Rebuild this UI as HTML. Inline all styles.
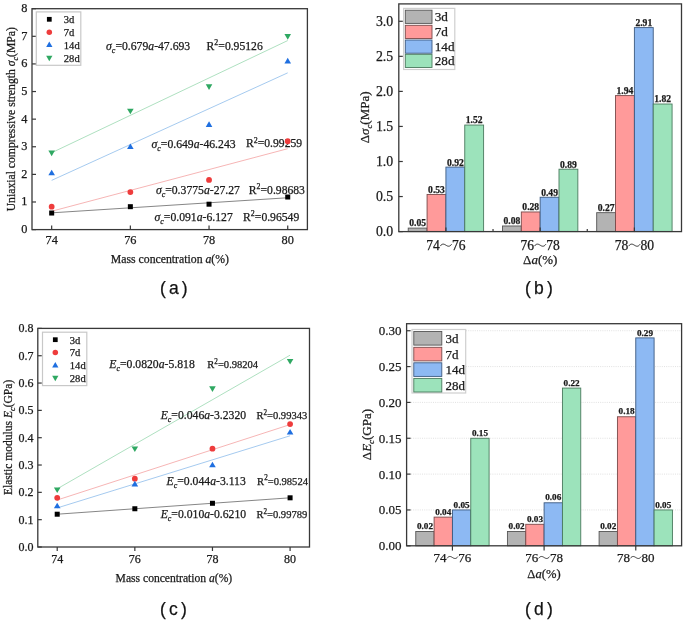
<!DOCTYPE html>
<html><head><meta charset="utf-8"><style>
html,body{margin:0;padding:0;background:#fff;}
svg{display:block;will-change:transform;filter:blur(0.35px);}
text{stroke:#1a1a1a;stroke-width:0.25px;}
</style></head><body>
<svg width="685" height="622" viewBox="0 0 685 622">
<rect width="685" height="622" fill="#fff"/>
<rect x="32.00" y="8.70" width="275.40" height="220.90" fill="none" stroke="#383838" stroke-width="1.3"/>
<line x1="32.00" y1="229.60" x2="36.00" y2="229.60" stroke="#383838" stroke-width="1.2"/>
<text x="27.40" y="233.00" font-size="12.3" text-anchor="end" font-weight="normal" font-style="normal" fill="#1a1a1a" font-family="'Liberation Serif', serif" >0</text>
<line x1="32.00" y1="201.99" x2="36.00" y2="201.99" stroke="#383838" stroke-width="1.2"/>
<text x="27.40" y="205.39" font-size="12.3" text-anchor="end" font-weight="normal" font-style="normal" fill="#1a1a1a" font-family="'Liberation Serif', serif" >1</text>
<line x1="32.00" y1="174.38" x2="36.00" y2="174.38" stroke="#383838" stroke-width="1.2"/>
<text x="27.40" y="177.78" font-size="12.3" text-anchor="end" font-weight="normal" font-style="normal" fill="#1a1a1a" font-family="'Liberation Serif', serif" >2</text>
<line x1="32.00" y1="146.76" x2="36.00" y2="146.76" stroke="#383838" stroke-width="1.2"/>
<text x="27.40" y="150.16" font-size="12.3" text-anchor="end" font-weight="normal" font-style="normal" fill="#1a1a1a" font-family="'Liberation Serif', serif" >3</text>
<line x1="32.00" y1="119.15" x2="36.00" y2="119.15" stroke="#383838" stroke-width="1.2"/>
<text x="27.40" y="122.55" font-size="12.3" text-anchor="end" font-weight="normal" font-style="normal" fill="#1a1a1a" font-family="'Liberation Serif', serif" >4</text>
<line x1="32.00" y1="91.54" x2="36.00" y2="91.54" stroke="#383838" stroke-width="1.2"/>
<text x="27.40" y="94.94" font-size="12.3" text-anchor="end" font-weight="normal" font-style="normal" fill="#1a1a1a" font-family="'Liberation Serif', serif" >5</text>
<line x1="32.00" y1="63.92" x2="36.00" y2="63.92" stroke="#383838" stroke-width="1.2"/>
<text x="27.40" y="67.32" font-size="12.3" text-anchor="end" font-weight="normal" font-style="normal" fill="#1a1a1a" font-family="'Liberation Serif', serif" >6</text>
<line x1="32.00" y1="36.31" x2="36.00" y2="36.31" stroke="#383838" stroke-width="1.2"/>
<text x="27.40" y="39.71" font-size="12.3" text-anchor="end" font-weight="normal" font-style="normal" fill="#1a1a1a" font-family="'Liberation Serif', serif" >7</text>
<line x1="32.00" y1="8.70" x2="36.00" y2="8.70" stroke="#383838" stroke-width="1.2"/>
<text x="27.40" y="12.10" font-size="12.3" text-anchor="end" font-weight="normal" font-style="normal" fill="#1a1a1a" font-family="'Liberation Serif', serif" >8</text>
<line x1="51.67" y1="229.60" x2="51.67" y2="225.60" stroke="#383838" stroke-width="1.2"/>
<text x="51.67" y="244.20" font-size="12.3" text-anchor="middle" font-weight="normal" font-style="normal" fill="#1a1a1a" font-family="'Liberation Serif', serif" >74</text>
<line x1="130.36" y1="229.60" x2="130.36" y2="225.60" stroke="#383838" stroke-width="1.2"/>
<text x="130.36" y="244.20" font-size="12.3" text-anchor="middle" font-weight="normal" font-style="normal" fill="#1a1a1a" font-family="'Liberation Serif', serif" >76</text>
<line x1="209.04" y1="229.60" x2="209.04" y2="225.60" stroke="#383838" stroke-width="1.2"/>
<text x="209.04" y="244.20" font-size="12.3" text-anchor="middle" font-weight="normal" font-style="normal" fill="#1a1a1a" font-family="'Liberation Serif', serif" >78</text>
<line x1="287.73" y1="229.60" x2="287.73" y2="225.60" stroke="#383838" stroke-width="1.2"/>
<text x="287.73" y="244.20" font-size="12.3" text-anchor="middle" font-weight="normal" font-style="normal" fill="#1a1a1a" font-family="'Liberation Serif', serif" >80</text>
<line x1="51.67" y1="212.84" x2="287.73" y2="197.76" stroke="#707070" stroke-width="0.85"/>
<line x1="51.67" y1="211.24" x2="287.73" y2="148.70" stroke="#f4a8a8" stroke-width="0.85"/>
<line x1="51.67" y1="180.37" x2="287.73" y2="72.84" stroke="#95c0ec" stroke-width="0.85"/>
<line x1="51.67" y1="152.73" x2="287.73" y2="40.56" stroke="#9fdab5" stroke-width="0.85"/>
<text x="106.10" y="49.60" font-size="11.7" fill="#1a1a1a" font-family="'Liberation Serif', serif"><tspan font-style="italic">σ</tspan><tspan font-style="italic" font-size="7.96" dy="3">c</tspan><tspan dy="-3">=0.679<tspan font-style="italic">a</tspan>-47.693</tspan></text>
<text x="206.60" y="49.80" font-size="11.65" fill="#1a1a1a" font-family="'Liberation Serif', serif">R<tspan font-size="7.92" dy="-4.43">2</tspan><tspan dy="4.43">=0.95126</tspan></text>
<text x="151.50" y="148.00" font-size="11.7" fill="#1a1a1a" font-family="'Liberation Serif', serif"><tspan font-style="italic">σ</tspan><tspan font-style="italic" font-size="7.96" dy="3">c</tspan><tspan dy="-3">=0.649<tspan font-style="italic">a</tspan>-46.243</tspan></text>
<text x="246.00" y="147.20" font-size="11.65" fill="#1a1a1a" font-family="'Liberation Serif', serif">R<tspan font-size="7.92" dy="-4.43">2</tspan><tspan dy="4.43">=0.99259</tspan></text>
<text x="155.90" y="194.00" font-size="11.7" fill="#1a1a1a" font-family="'Liberation Serif', serif"><tspan font-style="italic">σ</tspan><tspan font-style="italic" font-size="7.96" dy="3">c</tspan><tspan dy="-3">=0.3775<tspan font-style="italic">a</tspan>-27.27</tspan></text>
<text x="248.80" y="193.60" font-size="11.65" fill="#1a1a1a" font-family="'Liberation Serif', serif">R<tspan font-size="7.92" dy="-4.43">2</tspan><tspan dy="4.43">=0.98683</tspan></text>
<text x="154.50" y="220.90" font-size="11.7" fill="#1a1a1a" font-family="'Liberation Serif', serif"><tspan font-style="italic">σ</tspan><tspan font-style="italic" font-size="7.96" dy="3">c</tspan><tspan dy="-3">=0.091<tspan font-style="italic">a</tspan>-6.127</tspan></text>
<text x="243.10" y="220.90" font-size="11.65" fill="#1a1a1a" font-family="'Liberation Serif', serif">R<tspan font-size="7.92" dy="-4.43">2</tspan><tspan dy="4.43">=0.96549</tspan></text>
<rect x="49.17" y="210.53" width="5.00" height="5.00" fill="#000"/>
<rect x="127.86" y="204.18" width="5.00" height="5.00" fill="#000"/>
<rect x="206.54" y="201.70" width="5.00" height="5.00" fill="#000"/>
<rect x="285.23" y="194.52" width="5.00" height="5.00" fill="#000"/>
<circle cx="51.67" cy="206.68" r="2.90" fill="#ee3c3c"/>
<circle cx="130.36" cy="192.05" r="2.90" fill="#ee3c3c"/>
<circle cx="209.04" cy="179.90" r="2.90" fill="#ee3c3c"/>
<circle cx="287.73" cy="141.24" r="2.90" fill="#ee3c3c"/>
<path d="M51.67 169.63 L54.97 175.23 L48.37 175.23 Z" fill="#1f6fe0"/>
<path d="M130.36 143.40 L133.66 149.00 L127.06 149.00 Z" fill="#1f6fe0"/>
<path d="M209.04 121.31 L212.34 126.91 L205.74 126.91 Z" fill="#1f6fe0"/>
<path d="M287.73 57.80 L291.03 63.40 L284.43 63.40 Z" fill="#1f6fe0"/>
<path d="M51.67 156.20 L54.97 150.60 L48.37 150.60 Z" fill="#2fa862"/>
<path d="M130.36 114.23 L133.66 108.63 L127.06 108.63 Z" fill="#2fa862"/>
<path d="M209.04 89.93 L212.34 84.33 L205.74 84.33 Z" fill="#2fa862"/>
<path d="M287.73 39.67 L291.03 34.07 L284.43 34.07 Z" fill="#2fa862"/>
<rect x="36.30" y="11.90" width="44.50" height="53.40" fill="#fff" stroke="#c8c8c8" stroke-width="1.2"/>
<rect x="46.92" y="16.93" width="4.75" height="4.75" fill="#000"/>
<text x="63.80" y="23.10" font-size="10.6" text-anchor="start" font-weight="normal" font-style="normal" fill="#1a1a1a" font-family="'Liberation Serif', serif" >3d</text>
<circle cx="49.30" cy="32.20" r="2.75" fill="#ee3c3c"/>
<text x="63.80" y="36.00" font-size="10.6" text-anchor="start" font-weight="normal" font-style="normal" fill="#1a1a1a" font-family="'Liberation Serif', serif" >7d</text>
<path d="M49.30 41.61 L52.43 46.93 L46.16 46.93 Z" fill="#1f6fe0"/>
<text x="63.80" y="48.60" font-size="10.6" text-anchor="start" font-weight="normal" font-style="normal" fill="#1a1a1a" font-family="'Liberation Serif', serif" >14d</text>
<path d="M49.30 61.19 L52.43 55.87 L46.16 55.87 Z" fill="#2fa862"/>
<text x="63.80" y="61.80" font-size="10.6" text-anchor="start" font-weight="normal" font-style="normal" fill="#1a1a1a" font-family="'Liberation Serif', serif" >28d</text>
<text x="169.90" y="262.60" font-size="11.75" text-anchor="middle" font-weight="normal" font-style="normal" fill="#1a1a1a" font-family="'Liberation Serif', serif" >Mass concentration <tspan font-style="italic">a</tspan>(%)</text>
<text transform="translate(15.3,119.2) rotate(-90)" text-anchor="middle" font-size="11.7" fill="#1a1a1a" font-family="'Liberation Serif', serif">Uniaxial compressive strength <tspan font-style="italic">σ</tspan><tspan font-style="italic" font-size="8.0" dy="3">c</tspan><tspan dy="-3">(MPa)</tspan></text>
<rect x="37.80" y="328.40" width="271.70" height="218.60" fill="none" stroke="#383838" stroke-width="1.3"/>
<line x1="37.80" y1="547.00" x2="41.80" y2="547.00" stroke="#383838" stroke-width="1.2"/>
<text x="33.40" y="550.90" font-size="12" text-anchor="end" font-weight="normal" font-style="normal" fill="#1a1a1a" font-family="'Liberation Serif', serif" >0.0</text>
<line x1="37.80" y1="519.67" x2="41.80" y2="519.67" stroke="#383838" stroke-width="1.2"/>
<text x="33.40" y="523.57" font-size="12" text-anchor="end" font-weight="normal" font-style="normal" fill="#1a1a1a" font-family="'Liberation Serif', serif" >0.1</text>
<line x1="37.80" y1="492.35" x2="41.80" y2="492.35" stroke="#383838" stroke-width="1.2"/>
<text x="33.40" y="496.25" font-size="12" text-anchor="end" font-weight="normal" font-style="normal" fill="#1a1a1a" font-family="'Liberation Serif', serif" >0.2</text>
<line x1="37.80" y1="465.02" x2="41.80" y2="465.02" stroke="#383838" stroke-width="1.2"/>
<text x="33.40" y="468.92" font-size="12" text-anchor="end" font-weight="normal" font-style="normal" fill="#1a1a1a" font-family="'Liberation Serif', serif" >0.3</text>
<line x1="37.80" y1="437.70" x2="41.80" y2="437.70" stroke="#383838" stroke-width="1.2"/>
<text x="33.40" y="441.60" font-size="12" text-anchor="end" font-weight="normal" font-style="normal" fill="#1a1a1a" font-family="'Liberation Serif', serif" >0.4</text>
<line x1="37.80" y1="410.38" x2="41.80" y2="410.38" stroke="#383838" stroke-width="1.2"/>
<text x="33.40" y="414.27" font-size="12" text-anchor="end" font-weight="normal" font-style="normal" fill="#1a1a1a" font-family="'Liberation Serif', serif" >0.5</text>
<line x1="37.80" y1="383.05" x2="41.80" y2="383.05" stroke="#383838" stroke-width="1.2"/>
<text x="33.40" y="386.95" font-size="12" text-anchor="end" font-weight="normal" font-style="normal" fill="#1a1a1a" font-family="'Liberation Serif', serif" >0.6</text>
<line x1="37.80" y1="355.73" x2="41.80" y2="355.73" stroke="#383838" stroke-width="1.2"/>
<text x="33.40" y="359.62" font-size="12" text-anchor="end" font-weight="normal" font-style="normal" fill="#1a1a1a" font-family="'Liberation Serif', serif" >0.7</text>
<line x1="37.80" y1="328.40" x2="41.80" y2="328.40" stroke="#383838" stroke-width="1.2"/>
<text x="33.40" y="332.30" font-size="12" text-anchor="end" font-weight="normal" font-style="normal" fill="#1a1a1a" font-family="'Liberation Serif', serif" >0.8</text>
<line x1="57.21" y1="547.00" x2="57.21" y2="551.00" stroke="#383838" stroke-width="1.2"/>
<text x="57.21" y="563.30" font-size="12" text-anchor="middle" font-weight="normal" font-style="normal" fill="#1a1a1a" font-family="'Liberation Serif', serif" >74</text>
<line x1="134.84" y1="547.00" x2="134.84" y2="551.00" stroke="#383838" stroke-width="1.2"/>
<text x="134.84" y="563.30" font-size="12" text-anchor="middle" font-weight="normal" font-style="normal" fill="#1a1a1a" font-family="'Liberation Serif', serif" >76</text>
<line x1="212.46" y1="547.00" x2="212.46" y2="551.00" stroke="#383838" stroke-width="1.2"/>
<text x="212.46" y="563.30" font-size="12" text-anchor="middle" font-weight="normal" font-style="normal" fill="#1a1a1a" font-family="'Liberation Serif', serif" >78</text>
<line x1="290.09" y1="547.00" x2="290.09" y2="551.00" stroke="#383838" stroke-width="1.2"/>
<text x="290.09" y="563.30" font-size="12" text-anchor="middle" font-weight="normal" font-style="normal" fill="#1a1a1a" font-family="'Liberation Serif', serif" >80</text>
<line x1="57.21" y1="514.21" x2="290.09" y2="497.81" stroke="#707070" stroke-width="0.85"/>
<line x1="57.21" y1="500.00" x2="290.09" y2="424.58" stroke="#f4a8a8" stroke-width="0.85"/>
<line x1="57.21" y1="507.93" x2="290.09" y2="435.79" stroke="#95c0ec" stroke-width="0.85"/>
<line x1="57.21" y1="488.80" x2="290.09" y2="355.18" stroke="#9fdab5" stroke-width="0.85"/>
<text x="109.30" y="368.40" font-size="11.7" fill="#1a1a1a" font-family="'Liberation Serif', serif"><tspan font-style="italic">E</tspan><tspan font-style="italic" font-size="7.96" dy="3">c</tspan><tspan dy="-3">=0.0820<tspan font-style="italic">a</tspan>-5.818</tspan></text>
<text x="207.30" y="368.40" font-size="10.55" fill="#1a1a1a" font-family="'Liberation Serif', serif">R<tspan font-size="7.17" dy="-4.01">2</tspan><tspan dy="4.01">=0.98204</tspan></text>
<text x="160.70" y="418.70" font-size="11.7" fill="#1a1a1a" font-family="'Liberation Serif', serif"><tspan font-style="italic">E</tspan><tspan font-style="italic" font-size="7.96" dy="3">c</tspan><tspan dy="-3">=0.046<tspan font-style="italic">a</tspan>-3.2320</tspan></text>
<text x="256.40" y="418.70" font-size="10.55" fill="#1a1a1a" font-family="'Liberation Serif', serif">R<tspan font-size="7.17" dy="-4.01">2</tspan><tspan dy="4.01">=0.99343</tspan></text>
<text x="166.60" y="484.50" font-size="11.7" fill="#1a1a1a" font-family="'Liberation Serif', serif"><tspan font-style="italic">E</tspan><tspan font-style="italic" font-size="7.96" dy="3">c</tspan><tspan dy="-3">=0.044<tspan font-style="italic">a</tspan>-3.113</tspan></text>
<text x="257.10" y="484.50" font-size="10.55" fill="#1a1a1a" font-family="'Liberation Serif', serif">R<tspan font-size="7.17" dy="-4.01">2</tspan><tspan dy="4.01">=0.98524</tspan></text>
<text x="160.70" y="517.90" font-size="11.7" fill="#1a1a1a" font-family="'Liberation Serif', serif"><tspan font-style="italic">E</tspan><tspan font-style="italic" font-size="7.96" dy="3">c</tspan><tspan dy="-3">=0.010<tspan font-style="italic">a</tspan>-0.6210</tspan></text>
<text x="256.40" y="517.90" font-size="10.55" fill="#1a1a1a" font-family="'Liberation Serif', serif">R<tspan font-size="7.17" dy="-4.01">2</tspan><tspan dy="4.01">=0.99789</tspan></text>
<rect x="54.71" y="511.71" width="5.00" height="5.00" fill="#000"/>
<rect x="132.34" y="506.25" width="5.00" height="5.00" fill="#000"/>
<rect x="209.96" y="500.78" width="5.00" height="5.00" fill="#000"/>
<rect x="287.59" y="495.31" width="5.00" height="5.00" fill="#000"/>
<circle cx="57.21" cy="497.81" r="2.90" fill="#ee3c3c"/>
<circle cx="134.84" cy="478.69" r="2.90" fill="#ee3c3c"/>
<circle cx="212.46" cy="448.63" r="2.90" fill="#ee3c3c"/>
<circle cx="290.09" cy="424.04" r="2.90" fill="#ee3c3c"/>
<path d="M57.21 502.65 L60.51 508.25 L53.91 508.25 Z" fill="#1f6fe0"/>
<path d="M134.84 480.79 L138.14 486.39 L131.54 486.39 Z" fill="#1f6fe0"/>
<path d="M212.46 461.66 L215.76 467.26 L209.16 467.26 Z" fill="#1f6fe0"/>
<path d="M290.09 428.88 L293.39 434.48 L286.79 434.48 Z" fill="#1f6fe0"/>
<path d="M57.21 492.98 L60.51 487.38 L53.91 487.38 Z" fill="#2fa862"/>
<path d="M134.84 451.99 L138.14 446.39 L131.54 446.39 Z" fill="#2fa862"/>
<path d="M212.46 391.88 L215.76 386.27 L209.16 386.27 Z" fill="#2fa862"/>
<path d="M290.09 364.55 L293.39 358.95 L286.79 358.95 Z" fill="#2fa862"/>
<rect x="42.50" y="332.20" width="44.30" height="53.40" fill="#fff" stroke="#c8c8c8" stroke-width="1.2"/>
<rect x="52.92" y="337.32" width="4.75" height="4.75" fill="#000"/>
<text x="69.80" y="343.50" font-size="10.6" text-anchor="start" font-weight="normal" font-style="normal" fill="#1a1a1a" font-family="'Liberation Serif', serif" >3d</text>
<circle cx="55.30" cy="352.50" r="2.75" fill="#ee3c3c"/>
<text x="69.80" y="356.30" font-size="10.6" text-anchor="start" font-weight="normal" font-style="normal" fill="#1a1a1a" font-family="'Liberation Serif', serif" >7d</text>
<path d="M55.30 362.11 L58.43 367.43 L52.16 367.43 Z" fill="#1f6fe0"/>
<text x="69.80" y="369.10" font-size="10.6" text-anchor="start" font-weight="normal" font-style="normal" fill="#1a1a1a" font-family="'Liberation Serif', serif" >14d</text>
<path d="M55.30 381.19 L58.43 375.87 L52.16 375.87 Z" fill="#2fa862"/>
<text x="69.80" y="381.80" font-size="10.6" text-anchor="start" font-weight="normal" font-style="normal" fill="#1a1a1a" font-family="'Liberation Serif', serif" >28d</text>
<text x="173.90" y="582.40" font-size="11.6" text-anchor="middle" font-weight="normal" font-style="normal" fill="#1a1a1a" font-family="'Liberation Serif', serif" >Mass concentration <tspan font-style="italic">a</tspan>(%)</text>
<text transform="translate(11.8,437.4) rotate(-90)" text-anchor="middle" font-size="11.55" fill="#1a1a1a" font-family="'Liberation Serif', serif">Elastic modulus <tspan font-style="italic">E</tspan><tspan font-style="italic" font-size="8.3" dy="3">c</tspan><tspan dy="-3">(GPa)</tspan></text>
<rect x="408.22" y="228.09" width="18.85" height="3.51" fill="#b3b3b3" stroke="#555" stroke-width="0.9"/>
<text x="417.65" y="226.49" font-size="9.6" text-anchor="middle" font-weight="bold" font-style="normal" fill="#1a1a1a" font-family="'Liberation Serif', serif" >0.05</text>
<rect x="427.07" y="194.44" width="18.85" height="37.16" fill="#ff9a9a" stroke="#7a4a4a" stroke-width="0.9"/>
<text x="436.49" y="192.84" font-size="9.6" text-anchor="middle" font-weight="bold" font-style="normal" fill="#1a1a1a" font-family="'Liberation Serif', serif" >0.53</text>
<rect x="445.92" y="167.10" width="18.85" height="64.50" fill="#8db9f3" stroke="#3c5a80" stroke-width="0.9"/>
<text x="455.34" y="165.50" font-size="9.6" text-anchor="middle" font-weight="bold" font-style="normal" fill="#1a1a1a" font-family="'Liberation Serif', serif" >0.92</text>
<rect x="464.76" y="125.04" width="18.85" height="106.56" fill="#9ce3bb" stroke="#4a7a5e" stroke-width="0.9"/>
<text x="474.19" y="123.44" font-size="9.6" text-anchor="middle" font-weight="bold" font-style="normal" fill="#1a1a1a" font-family="'Liberation Serif', serif" >1.52</text>
<rect x="502.46" y="225.99" width="18.85" height="5.61" fill="#b3b3b3" stroke="#555" stroke-width="0.9"/>
<text x="511.88" y="224.39" font-size="9.6" text-anchor="middle" font-weight="bold" font-style="normal" fill="#1a1a1a" font-family="'Liberation Serif', serif" >0.08</text>
<rect x="521.30" y="211.97" width="18.85" height="19.63" fill="#ff9a9a" stroke="#7a4a4a" stroke-width="0.9"/>
<text x="530.73" y="210.37" font-size="9.6" text-anchor="middle" font-weight="bold" font-style="normal" fill="#1a1a1a" font-family="'Liberation Serif', serif" >0.28</text>
<rect x="540.15" y="197.25" width="18.85" height="34.35" fill="#8db9f3" stroke="#3c5a80" stroke-width="0.9"/>
<text x="549.57" y="195.65" font-size="9.6" text-anchor="middle" font-weight="bold" font-style="normal" fill="#1a1a1a" font-family="'Liberation Serif', serif" >0.49</text>
<rect x="559.00" y="169.21" width="18.85" height="62.39" fill="#9ce3bb" stroke="#4a7a5e" stroke-width="0.9"/>
<text x="568.42" y="167.61" font-size="9.6" text-anchor="middle" font-weight="bold" font-style="normal" fill="#1a1a1a" font-family="'Liberation Serif', serif" >0.89</text>
<rect x="596.69" y="212.67" width="18.85" height="18.93" fill="#b3b3b3" stroke="#555" stroke-width="0.9"/>
<text x="606.11" y="211.07" font-size="9.6" text-anchor="middle" font-weight="bold" font-style="normal" fill="#1a1a1a" font-family="'Liberation Serif', serif" >0.27</text>
<rect x="615.54" y="95.60" width="18.85" height="136.00" fill="#ff9a9a" stroke="#7a4a4a" stroke-width="0.9"/>
<text x="624.96" y="94.00" font-size="9.6" text-anchor="middle" font-weight="bold" font-style="normal" fill="#1a1a1a" font-family="'Liberation Serif', serif" >1.94</text>
<rect x="634.38" y="27.60" width="18.85" height="204.00" fill="#8db9f3" stroke="#3c5a80" stroke-width="0.9"/>
<text x="643.81" y="26.00" font-size="9.6" text-anchor="middle" font-weight="bold" font-style="normal" fill="#1a1a1a" font-family="'Liberation Serif', serif" >2.91</text>
<rect x="653.23" y="104.01" width="18.85" height="127.59" fill="#9ce3bb" stroke="#4a7a5e" stroke-width="0.9"/>
<text x="662.65" y="102.41" font-size="9.6" text-anchor="middle" font-weight="bold" font-style="normal" fill="#1a1a1a" font-family="'Liberation Serif', serif" >1.82</text>
<rect x="398.80" y="3.90" width="282.70" height="227.70" fill="none" stroke="#383838" stroke-width="1.3"/>
<line x1="398.80" y1="231.60" x2="402.80" y2="231.60" stroke="#383838" stroke-width="1.2"/>
<text x="393.20" y="236.29" font-size="13.8" text-anchor="end" font-weight="normal" font-style="normal" fill="#1a1a1a" font-family="'Liberation Serif', serif" >0.0</text>
<line x1="398.80" y1="196.55" x2="402.80" y2="196.55" stroke="#383838" stroke-width="1.2"/>
<text x="393.20" y="201.24" font-size="13.8" text-anchor="end" font-weight="normal" font-style="normal" fill="#1a1a1a" font-family="'Liberation Serif', serif" >0.5</text>
<line x1="398.80" y1="161.50" x2="402.80" y2="161.50" stroke="#383838" stroke-width="1.2"/>
<text x="393.20" y="166.19" font-size="13.8" text-anchor="end" font-weight="normal" font-style="normal" fill="#1a1a1a" font-family="'Liberation Serif', serif" >1.0</text>
<line x1="398.80" y1="126.44" x2="402.80" y2="126.44" stroke="#383838" stroke-width="1.2"/>
<text x="393.20" y="131.13" font-size="13.8" text-anchor="end" font-weight="normal" font-style="normal" fill="#1a1a1a" font-family="'Liberation Serif', serif" >1.5</text>
<line x1="398.80" y1="91.39" x2="402.80" y2="91.39" stroke="#383838" stroke-width="1.2"/>
<text x="393.20" y="96.08" font-size="13.8" text-anchor="end" font-weight="normal" font-style="normal" fill="#1a1a1a" font-family="'Liberation Serif', serif" >2.0</text>
<line x1="398.80" y1="56.34" x2="402.80" y2="56.34" stroke="#383838" stroke-width="1.2"/>
<text x="393.20" y="61.03" font-size="13.8" text-anchor="end" font-weight="normal" font-style="normal" fill="#1a1a1a" font-family="'Liberation Serif', serif" >2.5</text>
<line x1="398.80" y1="21.29" x2="402.80" y2="21.29" stroke="#383838" stroke-width="1.2"/>
<text x="393.20" y="25.98" font-size="13.8" text-anchor="end" font-weight="normal" font-style="normal" fill="#1a1a1a" font-family="'Liberation Serif', serif" >3.0</text>
<line x1="493.03" y1="231.60" x2="493.03" y2="229.10" stroke="#383838" stroke-width="1.2"/>
<line x1="587.27" y1="231.60" x2="587.27" y2="229.10" stroke="#383838" stroke-width="1.2"/>
<line x1="445.92" y1="231.60" x2="445.92" y2="227.60" stroke="#383838" stroke-width="1.2"/>
<line x1="540.15" y1="231.60" x2="540.15" y2="227.60" stroke="#383838" stroke-width="1.2"/>
<line x1="634.38" y1="231.60" x2="634.38" y2="227.60" stroke="#383838" stroke-width="1.2"/>
<rect x="403.60" y="8.40" width="51.20" height="61.10" fill="#fff" stroke="#cfcfcf" stroke-width="1.2"/>
<rect x="405.30" y="10.20" width="26.70" height="13.20" fill="#b3b3b3" stroke="#555" stroke-width="0.9"/>
<text x="434.70" y="20.76" font-size="13.2" text-anchor="start" font-weight="normal" font-style="normal" fill="#1a1a1a" font-family="'Liberation Serif', serif" >3d</text>
<rect x="405.30" y="25.30" width="26.70" height="13.20" fill="#ff9a9a" stroke="#7a4a4a" stroke-width="0.9"/>
<text x="434.70" y="35.86" font-size="13.2" text-anchor="start" font-weight="normal" font-style="normal" fill="#1a1a1a" font-family="'Liberation Serif', serif" >7d</text>
<rect x="405.30" y="40.00" width="26.70" height="13.20" fill="#8db9f3" stroke="#3c5a80" stroke-width="0.9"/>
<text x="434.70" y="50.56" font-size="13.2" text-anchor="start" font-weight="normal" font-style="normal" fill="#1a1a1a" font-family="'Liberation Serif', serif" >14d</text>
<rect x="405.30" y="54.30" width="26.70" height="13.20" fill="#9ce3bb" stroke="#4a7a5e" stroke-width="0.9"/>
<text x="434.70" y="64.86" font-size="13.2" text-anchor="start" font-weight="normal" font-style="normal" fill="#1a1a1a" font-family="'Liberation Serif', serif" >28d</text>
<text x="426.20" y="249.80" font-size="13.6" text-anchor="start" font-weight="normal" font-style="normal" fill="#1a1a1a" font-family="'Liberation Serif', serif" >74</text>
<path d="M440.20 246.13 C442.26 243.14 444.20 244.09 445.92 245.18 C447.63 246.26 449.57 247.22 451.63 244.22" fill="none" stroke="#1a1a1a" stroke-width="0.88"/>
<text x="452.04" y="249.80" font-size="13.6" text-anchor="start" font-weight="normal" font-style="normal" fill="#1a1a1a" font-family="'Liberation Serif', serif" >76</text>
<text x="520.43" y="249.80" font-size="13.6" text-anchor="start" font-weight="normal" font-style="normal" fill="#1a1a1a" font-family="'Liberation Serif', serif" >76</text>
<path d="M534.44 246.13 C536.49 243.14 538.44 244.09 540.15 245.18 C541.86 246.26 543.81 247.22 545.86 244.22" fill="none" stroke="#1a1a1a" stroke-width="0.88"/>
<text x="546.27" y="249.80" font-size="13.6" text-anchor="start" font-weight="normal" font-style="normal" fill="#1a1a1a" font-family="'Liberation Serif', serif" >78</text>
<text x="614.66" y="249.80" font-size="13.6" text-anchor="start" font-weight="normal" font-style="normal" fill="#1a1a1a" font-family="'Liberation Serif', serif" >78</text>
<path d="M628.67 246.13 C630.73 243.14 632.67 244.09 634.38 245.18 C636.10 246.26 638.04 247.22 640.10 244.22" fill="none" stroke="#1a1a1a" stroke-width="0.88"/>
<text x="640.50" y="249.80" font-size="13.6" text-anchor="start" font-weight="normal" font-style="normal" fill="#1a1a1a" font-family="'Liberation Serif', serif" >80</text>
<text x="540.20" y="264.30" font-size="13.0" text-anchor="middle" font-weight="normal" font-style="normal" fill="#1a1a1a" font-family="'Liberation Serif', serif" >Δ<tspan font-style="italic">a</tspan>(%)</text>
<text transform="translate(368.6,117.4) rotate(-90)" text-anchor="middle" font-size="13" fill="#1a1a1a" font-family="'Liberation Serif', serif">Δ<tspan font-style="italic">σ</tspan><tspan font-style="italic" font-size="8.8" dy="3">c</tspan><tspan dy="-3">(MPa)</tspan></text>
<line x1="406.60" y1="509.95" x2="681.60" y2="509.95" stroke="#d9d9d9" stroke-width="0.8" stroke-dasharray="1 1.2"/>
<line x1="406.60" y1="474.11" x2="681.60" y2="474.11" stroke="#d9d9d9" stroke-width="0.8" stroke-dasharray="1 1.2"/>
<line x1="406.60" y1="438.26" x2="681.60" y2="438.26" stroke="#d9d9d9" stroke-width="0.8" stroke-dasharray="1 1.2"/>
<line x1="406.60" y1="402.42" x2="681.60" y2="402.42" stroke="#d9d9d9" stroke-width="0.8" stroke-dasharray="1 1.2"/>
<line x1="406.60" y1="366.57" x2="681.60" y2="366.57" stroke="#d9d9d9" stroke-width="0.8" stroke-dasharray="1 1.2"/>
<line x1="406.60" y1="330.73" x2="681.60" y2="330.73" stroke="#d9d9d9" stroke-width="0.8" stroke-dasharray="1 1.2"/>
<rect x="415.77" y="531.46" width="18.33" height="14.34" fill="#b3b3b3" stroke="#555" stroke-width="0.9"/>
<text x="424.93" y="529.16" font-size="9.2" text-anchor="middle" font-weight="bold" font-style="normal" fill="#1a1a1a" font-family="'Liberation Serif', serif" >0.02</text>
<rect x="434.10" y="517.12" width="18.33" height="28.68" fill="#ff9a9a" stroke="#7a4a4a" stroke-width="0.9"/>
<text x="443.27" y="514.82" font-size="9.2" text-anchor="middle" font-weight="bold" font-style="normal" fill="#1a1a1a" font-family="'Liberation Serif', serif" >0.04</text>
<rect x="452.43" y="509.95" width="18.33" height="35.85" fill="#8db9f3" stroke="#3c5a80" stroke-width="0.9"/>
<text x="461.60" y="507.65" font-size="9.2" text-anchor="middle" font-weight="bold" font-style="normal" fill="#1a1a1a" font-family="'Liberation Serif', serif" >0.05</text>
<rect x="470.77" y="438.26" width="18.33" height="107.54" fill="#9ce3bb" stroke="#4a7a5e" stroke-width="0.9"/>
<text x="479.93" y="435.96" font-size="9.2" text-anchor="middle" font-weight="bold" font-style="normal" fill="#1a1a1a" font-family="'Liberation Serif', serif" >0.15</text>
<rect x="507.43" y="531.46" width="18.33" height="14.34" fill="#b3b3b3" stroke="#555" stroke-width="0.9"/>
<text x="516.60" y="529.16" font-size="9.2" text-anchor="middle" font-weight="bold" font-style="normal" fill="#1a1a1a" font-family="'Liberation Serif', serif" >0.02</text>
<rect x="525.77" y="524.29" width="18.33" height="21.51" fill="#ff9a9a" stroke="#7a4a4a" stroke-width="0.9"/>
<text x="534.93" y="521.99" font-size="9.2" text-anchor="middle" font-weight="bold" font-style="normal" fill="#1a1a1a" font-family="'Liberation Serif', serif" >0.03</text>
<rect x="544.10" y="502.79" width="18.33" height="43.01" fill="#8db9f3" stroke="#3c5a80" stroke-width="0.9"/>
<text x="553.27" y="500.49" font-size="9.2" text-anchor="middle" font-weight="bold" font-style="normal" fill="#1a1a1a" font-family="'Liberation Serif', serif" >0.06</text>
<rect x="562.43" y="388.08" width="18.33" height="157.72" fill="#9ce3bb" stroke="#4a7a5e" stroke-width="0.9"/>
<text x="571.60" y="385.78" font-size="9.2" text-anchor="middle" font-weight="bold" font-style="normal" fill="#1a1a1a" font-family="'Liberation Serif', serif" >0.22</text>
<rect x="599.10" y="531.46" width="18.33" height="14.34" fill="#b3b3b3" stroke="#555" stroke-width="0.9"/>
<text x="608.27" y="529.16" font-size="9.2" text-anchor="middle" font-weight="bold" font-style="normal" fill="#1a1a1a" font-family="'Liberation Serif', serif" >0.02</text>
<rect x="617.43" y="416.76" width="18.33" height="129.04" fill="#ff9a9a" stroke="#7a4a4a" stroke-width="0.9"/>
<text x="626.60" y="414.46" font-size="9.2" text-anchor="middle" font-weight="bold" font-style="normal" fill="#1a1a1a" font-family="'Liberation Serif', serif" >0.18</text>
<rect x="635.77" y="337.89" width="18.33" height="207.91" fill="#8db9f3" stroke="#3c5a80" stroke-width="0.9"/>
<text x="644.93" y="335.59" font-size="9.2" text-anchor="middle" font-weight="bold" font-style="normal" fill="#1a1a1a" font-family="'Liberation Serif', serif" >0.29</text>
<rect x="654.10" y="509.95" width="18.33" height="35.85" fill="#9ce3bb" stroke="#4a7a5e" stroke-width="0.9"/>
<text x="663.27" y="507.65" font-size="9.2" text-anchor="middle" font-weight="bold" font-style="normal" fill="#1a1a1a" font-family="'Liberation Serif', serif" >0.05</text>
<rect x="406.60" y="323.70" width="275.00" height="222.10" fill="none" stroke="#383838" stroke-width="1.3"/>
<line x1="406.60" y1="545.80" x2="410.60" y2="545.80" stroke="#383838" stroke-width="1.2"/>
<text x="401.40" y="550.22" font-size="13.0" text-anchor="end" font-weight="normal" font-style="normal" fill="#1a1a1a" font-family="'Liberation Serif', serif" >0.00</text>
<line x1="406.60" y1="509.95" x2="410.60" y2="509.95" stroke="#383838" stroke-width="1.2"/>
<text x="401.40" y="514.37" font-size="13.0" text-anchor="end" font-weight="normal" font-style="normal" fill="#1a1a1a" font-family="'Liberation Serif', serif" >0.05</text>
<line x1="406.60" y1="474.11" x2="410.60" y2="474.11" stroke="#383838" stroke-width="1.2"/>
<text x="401.40" y="478.53" font-size="13.0" text-anchor="end" font-weight="normal" font-style="normal" fill="#1a1a1a" font-family="'Liberation Serif', serif" >0.10</text>
<line x1="406.60" y1="438.26" x2="410.60" y2="438.26" stroke="#383838" stroke-width="1.2"/>
<text x="401.40" y="442.68" font-size="13.0" text-anchor="end" font-weight="normal" font-style="normal" fill="#1a1a1a" font-family="'Liberation Serif', serif" >0.15</text>
<line x1="406.60" y1="402.42" x2="410.60" y2="402.42" stroke="#383838" stroke-width="1.2"/>
<text x="401.40" y="406.84" font-size="13.0" text-anchor="end" font-weight="normal" font-style="normal" fill="#1a1a1a" font-family="'Liberation Serif', serif" >0.20</text>
<line x1="406.60" y1="366.57" x2="410.60" y2="366.57" stroke="#383838" stroke-width="1.2"/>
<text x="401.40" y="370.99" font-size="13.0" text-anchor="end" font-weight="normal" font-style="normal" fill="#1a1a1a" font-family="'Liberation Serif', serif" >0.25</text>
<line x1="406.60" y1="330.73" x2="410.60" y2="330.73" stroke="#383838" stroke-width="1.2"/>
<text x="401.40" y="335.15" font-size="13.0" text-anchor="end" font-weight="normal" font-style="normal" fill="#1a1a1a" font-family="'Liberation Serif', serif" >0.30</text>
<line x1="452.43" y1="545.80" x2="452.43" y2="550.60" stroke="#383838" stroke-width="1.2"/>
<line x1="544.10" y1="545.80" x2="544.10" y2="550.60" stroke="#383838" stroke-width="1.2"/>
<line x1="635.77" y1="545.80" x2="635.77" y2="550.60" stroke="#383838" stroke-width="1.2"/>
<rect x="412.00" y="329.50" width="53.70" height="63.50" fill="#fff" stroke="#cfcfcf" stroke-width="1.2"/>
<rect x="413.80" y="331.50" width="28.00" height="13.60" fill="#b3b3b3" stroke="#555" stroke-width="0.9"/>
<text x="445.50" y="343.00" font-size="13.0" text-anchor="start" font-weight="normal" font-style="normal" fill="#1a1a1a" font-family="'Liberation Serif', serif" >3d</text>
<rect x="413.80" y="347.30" width="28.00" height="13.60" fill="#ff9a9a" stroke="#7a4a4a" stroke-width="0.9"/>
<text x="445.50" y="358.80" font-size="13.0" text-anchor="start" font-weight="normal" font-style="normal" fill="#1a1a1a" font-family="'Liberation Serif', serif" >7d</text>
<rect x="413.80" y="362.80" width="28.00" height="13.60" fill="#8db9f3" stroke="#3c5a80" stroke-width="0.9"/>
<text x="445.50" y="374.30" font-size="13.0" text-anchor="start" font-weight="normal" font-style="normal" fill="#1a1a1a" font-family="'Liberation Serif', serif" >14d</text>
<rect x="413.80" y="378.40" width="28.00" height="13.60" fill="#9ce3bb" stroke="#4a7a5e" stroke-width="0.9"/>
<text x="445.50" y="389.90" font-size="13.0" text-anchor="start" font-weight="normal" font-style="normal" fill="#1a1a1a" font-family="'Liberation Serif', serif" >28d</text>
<text x="433.58" y="561.90" font-size="13.0" text-anchor="start" font-weight="normal" font-style="normal" fill="#1a1a1a" font-family="'Liberation Serif', serif" >74</text>
<path d="M446.97 558.39 C448.94 555.53 450.80 556.44 452.43 557.48 C454.07 558.52 455.93 559.43 457.89 556.57" fill="none" stroke="#1a1a1a" stroke-width="0.84"/>
<text x="458.28" y="561.90" font-size="13.0" text-anchor="start" font-weight="normal" font-style="normal" fill="#1a1a1a" font-family="'Liberation Serif', serif" >76</text>
<text x="525.25" y="561.90" font-size="13.0" text-anchor="start" font-weight="normal" font-style="normal" fill="#1a1a1a" font-family="'Liberation Serif', serif" >76</text>
<path d="M538.64 558.39 C540.61 555.53 542.46 556.44 544.10 557.48 C545.74 558.52 547.59 559.43 549.56 556.57" fill="none" stroke="#1a1a1a" stroke-width="0.84"/>
<text x="549.95" y="561.90" font-size="13.0" text-anchor="start" font-weight="normal" font-style="normal" fill="#1a1a1a" font-family="'Liberation Serif', serif" >78</text>
<text x="616.92" y="561.90" font-size="13.0" text-anchor="start" font-weight="normal" font-style="normal" fill="#1a1a1a" font-family="'Liberation Serif', serif" >78</text>
<path d="M630.31 558.39 C632.27 555.53 634.13 556.44 635.77 557.48 C637.40 558.52 639.26 559.43 641.23 556.57" fill="none" stroke="#1a1a1a" stroke-width="0.84"/>
<text x="641.62" y="561.90" font-size="13.0" text-anchor="start" font-weight="normal" font-style="normal" fill="#1a1a1a" font-family="'Liberation Serif', serif" >80</text>
<text x="544.00" y="577.60" font-size="12.6" text-anchor="middle" font-weight="normal" font-style="normal" fill="#1a1a1a" font-family="'Liberation Serif', serif" >Δ<tspan font-style="italic">a</tspan>(%)</text>
<text transform="translate(371.2,434.6) rotate(-90)" text-anchor="middle" font-size="13" fill="#1a1a1a" font-family="'Liberation Serif', serif">Δ<tspan font-style="italic">E</tspan><tspan font-style="italic" font-size="8.8" dy="3">c</tspan><tspan dy="-3">(GPa)</tspan></text>
<text x="175.40" y="293.60" font-size="17.5" text-anchor="middle" font-weight="normal" font-style="normal" fill="#111" font-family="'Liberation Sans', sans-serif" letter-spacing="3.2">(a)</text>
<text x="540.50" y="293.60" font-size="17.5" text-anchor="middle" font-weight="normal" font-style="normal" fill="#111" font-family="'Liberation Sans', sans-serif" letter-spacing="3.2">(b)</text>
<text x="175.10" y="615.00" font-size="17.5" text-anchor="middle" font-weight="normal" font-style="normal" fill="#111" font-family="'Liberation Sans', sans-serif" letter-spacing="3.2">(c)</text>
<text x="540.50" y="615.00" font-size="17.5" text-anchor="middle" font-weight="normal" font-style="normal" fill="#111" font-family="'Liberation Sans', sans-serif" letter-spacing="3.2">(d)</text>
</svg></body></html>
